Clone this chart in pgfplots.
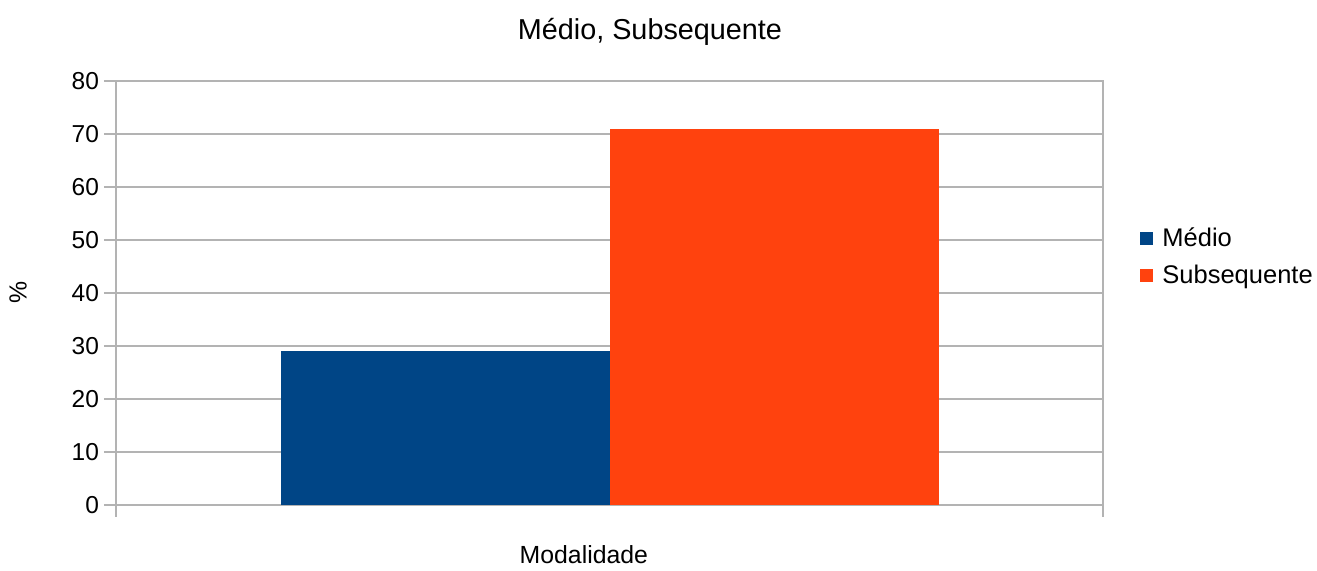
\documentclass[border=0pt]{standalone}
\usepackage{fontspec}
\setmainfont{Liberation Sans}
\usepackage{pgfplots}
\pgfplotsset{compat=1.18}
\definecolor{cblue}{HTML}{004586}
\definecolor{corange}{HTML}{FF420E}
\definecolor{cgrid}{HTML}{B3B3B3}
\begin{document}
\begin{tikzpicture}
\begin{axis}[
 name=ax, at={(0,0)}, anchor=south west,
 scale only axis, width=493.5pt, height=212pt,
 ybar=0pt, bar width=1/3,
 xmin=0.5, xmax=1.5, ymin=0, ymax=80,
 xtick={0.5,1.5}, xticklabels={},
 ytick={0,10,...,80},
 ymajorgrids, xmajorgrids,
 grid style={cgrid, line width=0.6pt},
 axis line style={cgrid, line width=0.6pt},
 tick style={cgrid, line width=0.6pt},
 tick align=outside, major tick length=6pt,
 xtick pos=bottom, ytick pos=left,
 /pgf/number format/assume math mode=true,
 yticklabel style={font=\fontsize{12.25pt}{14pt}\selectfont, text=black, xshift=1pt},
 ylabel={\%},
 ylabel style={at={(axis description cs:-0.0993,0.502)}, anchor=center, font=\fontsize{12.4pt}{14pt}\selectfont},
 xlabel={Modalidade},
 xlabel style={at={(axis description cs:0.474,-0.118)}, anchor=center, font=\fontsize{12.4pt}{14pt}\selectfont},
 title={Médio, Subsequente},
 title style={at={(axis description cs:0.541,1.087)}, anchor=center, font=\fontsize{14.4pt}{16pt}\selectfont},
 legend style={at={(axis description cs:1.0375,0.585)}, anchor=west, draw=none, fill=none,
   font=\fontsize{12.75pt}{15pt}\selectfont, row sep=3.5pt, inner sep=0pt,
   /tikz/every odd column/.append style={column sep=2.5pt}},
 legend cell align=left,
]
\addplot[fill=cblue, draw=none, legend image code/.code={\fill[cblue] (0pt,-3.25pt) rectangle (6.5pt,3.25pt);}] coordinates {(1,29)};
\addplot[fill=corange, draw=none, legend image code/.code={\fill[corange] (0pt,-3.25pt) rectangle (6.5pt,3.25pt);}] coordinates {(1,71)};
\legend{Médio,Subsequente}
\end{axis}
\path[use as bounding box] ([xshift=-58pt,yshift=-29.5pt]ax.south west) rectangle ([xshift=600.5pt,yshift=252.5pt]ax.south west);
\end{tikzpicture}
\end{document}
